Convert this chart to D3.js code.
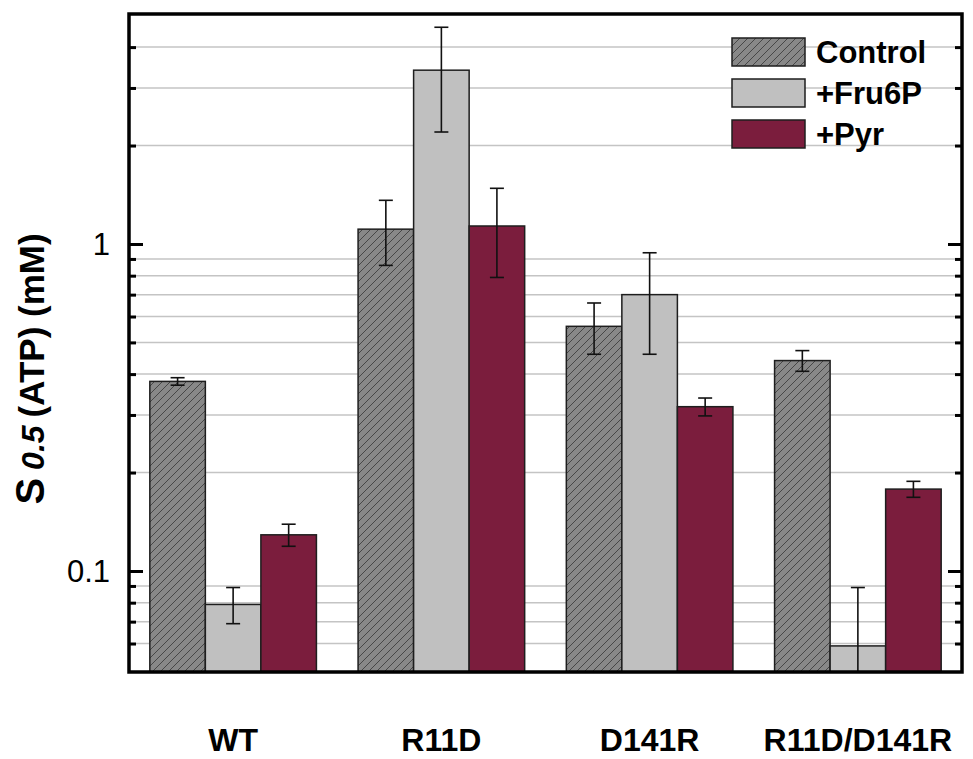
<!DOCTYPE html>
<html>
<head>
<meta charset="utf-8">
<script src="https://cdn.jsdelivr.net/npm/d3@7/dist/d3.min.js"></script>
<style>
  html, body { margin: 0; padding: 0; background: #ffffff; }
  svg { display: block; font-family: "Liberation Sans", Arial, sans-serif; }
</style>
</head>
<body>
<svg id="chart" width="973" height="759"></svg>
<script>
// Mutants and treatments
const categories = ["WT", "R11D", "D141R", "R11D/D141R"];
const series = ["Control", "+Fru6P", "+Pyr"];

// S0.5 for ATP (mM) with standard deviations
const controlValues = [0.38, 1.11, 0.56, 0.44];
const controlSD     = [0.01, 0.25, 0.10, 0.032];
const fru6pValues   = [0.079, 3.40, 0.70, 0.059];
const fru6pSD       = [0.01, 1.20, 0.24, 0.03];
const pyrValues     = [0.129, 1.135, 0.318, 0.178];
const pyrSD         = [0.01, 0.345, 0.02, 0.01];

// Axis ticks (log scale)
const majorTicks = [0.1, 1];
const majorTickLabels = ["0.1", "1"];
const minorTicks = [0.06, 0.07, 0.08, 0.09, 0.2, 0.3, 0.4, 0.5, 0.6, 0.7, 0.8, 0.9, 2, 3, 4];

const seriesValues = [controlValues, fru6pValues, pyrValues];
const seriesSD = [controlSD, fru6pSD, pyrSD];

const svg = d3.select("#chart");
const pLeft = 129, pRight = 962, pTop = 14, pBottom = 672;

const y = d3.scaleLog().domain([0.0491, 5.05]).range([pBottom, pTop]);
const x0 = d3.scaleBand().domain(categories).range([pLeft, pRight])
  .paddingInner(0.2).paddingOuter(0.1);
const x1 = d3.scaleBand().domain(series).range([0, x0.bandwidth()]).padding(0);

// Fills
const defs = svg.append("defs");
const hatch = defs.append("pattern")
  .attr("id", "hatch").attr("patternUnits", "userSpaceOnUse")
  .attr("width", 8).attr("height", 8);
hatch.append("rect").attr("width", 8).attr("height", 8).attr("fill", "#888888");
hatch.append("path")
  .attr("d", "M-2,2 l4,-4 M0,8 l8,-8 M6,10 l4,-4")
  .attr("stroke", "#474747").attr("stroke-width", 1);

defs.append("clipPath").attr("id", "plotClip")
  .append("rect").attr("x", pLeft).attr("y", pTop)
  .attr("width", pRight - pLeft).attr("height", pBottom - pTop);

const fills = { "Control": "url(#hatch)", "+Fru6P": "#c0c0c0", "+Pyr": "#7b1d3d" };

// Minor gridlines
svg.append("g").selectAll("line").data(minorTicks).join("line")
  .attr("x1", pLeft).attr("x2", pRight)
  .attr("y1", d => y(d)).attr("y2", d => y(d))
  .attr("stroke", "#c4c4c4").attr("stroke-width", 1.5);

// Bars
const barData = [];
categories.forEach((c, ci) => {
  series.forEach((s, si) => {
    barData.push({ cat: c, ser: s, v: seriesValues[si][ci], sd: seriesSD[si][ci] });
  });
});

const plot = svg.append("g").attr("clip-path", "url(#plotClip)");
plot.selectAll("rect.bar").data(barData).join("rect")
  .attr("class", "bar")
  .attr("x", d => x0(d.cat) + x1(d.ser))
  .attr("width", x1.bandwidth())
  .attr("y", d => y(d.v))
  .attr("height", d => pBottom - y(d.v))
  .attr("fill", d => fills[d.ser])
  .attr("stroke", "#1e1e1e").attr("stroke-width", 1.5);

// Error bars
const capW = 7;
const cx = d => x0(d.cat) + x1(d.ser) + x1.bandwidth() / 2;
const hasLow = d => (d.v - d.sd) > y.domain()[0];
const eb = plot.selectAll("g.err").data(barData).join("g").attr("class", "err")
  .attr("stroke", "#111").attr("stroke-width", 1.6);
eb.append("line")
  .attr("x1", cx).attr("x2", cx)
  .attr("y1", d => y(d.v + d.sd))
  .attr("y2", d => hasLow(d) ? y(d.v - d.sd) : pBottom + 5);
eb.append("line")
  .attr("x1", d => cx(d) - capW).attr("x2", d => cx(d) + capW)
  .attr("y1", d => y(d.v + d.sd)).attr("y2", d => y(d.v + d.sd));
eb.filter(hasLow).append("line")
  .attr("x1", d => cx(d) - capW).attr("x2", d => cx(d) + capW)
  .attr("y1", d => y(d.v - d.sd)).attr("y2", d => y(d.v - d.sd));

// Axes: inward ticks on left and right
function tickAxis(axisFn, xPos, values, size) {
  svg.append("g").attr("transform", `translate(${xPos},0)`)
    .call(axisFn(y).tickValues(values).tickSize(size).tickFormat(""))
    .call(g => g.select(".domain").remove())
    .selectAll("line").attr("stroke", "#000").attr("stroke-width", 3);
}
tickAxis(d3.axisRight, pLeft, minorTicks, 7);
tickAxis(d3.axisRight, pLeft, majorTicks, 14);
tickAxis(d3.axisLeft, pRight, minorTicks, 7);
tickAxis(d3.axisLeft, pRight, majorTicks, 14);

// Tick labels
svg.append("g").selectAll("text").data(majorTicks).join("text")
  .attr("x", pLeft - 19).attr("y", d => y(d)).attr("dy", "0.36em")
  .attr("text-anchor", "end").attr("font-size", 31).attr("fill", "#000")
  .text((d, i) => majorTickLabels[i]);

// Frame
svg.append("rect").attr("x", pLeft).attr("y", pTop)
  .attr("width", pRight - pLeft).attr("height", pBottom - pTop)
  .attr("fill", "none").attr("stroke", "#000").attr("stroke-width", 3.5);

// Category labels
svg.append("g").selectAll("text").data(categories).join("text")
  .attr("x", d => x0(d) + x0.bandwidth() / 2).attr("y", 751)
  .attr("text-anchor", "middle").attr("font-size", 32).attr("font-weight", "bold")
  .text(d => d);

// Y-axis title
const title = svg.append("text")
  .attr("transform", "translate(44,369) rotate(-90)")
  .attr("text-anchor", "middle").attr("font-weight", "bold").attr("font-size", 35);
title.append("tspan").attr("font-size", 40).text("S");
title.append("tspan").attr("font-style", "italic").attr("font-size", 32).attr("dx", 8).text("0.5");
title.append("tspan").attr("dx", 8).text("(ATP) (mM)");

// Legend
const legend = svg.append("g").attr("transform", "translate(732,38)");
const items = legend.selectAll("g").data(series).join("g")
  .attr("transform", (d, i) => `translate(0,${i * 41})`);
items.append("rect").attr("width", 73).attr("height", 28)
  .attr("fill", d => fills[d]).attr("stroke", "#1e1e1e").attr("stroke-width", 1.5);
items.append("text").attr("x", 84).attr("y", 14).attr("dy", "0.36em")
  .attr("font-size", 31).attr("font-weight", "bold").text(d => d);
</script>
</body>
</html>
